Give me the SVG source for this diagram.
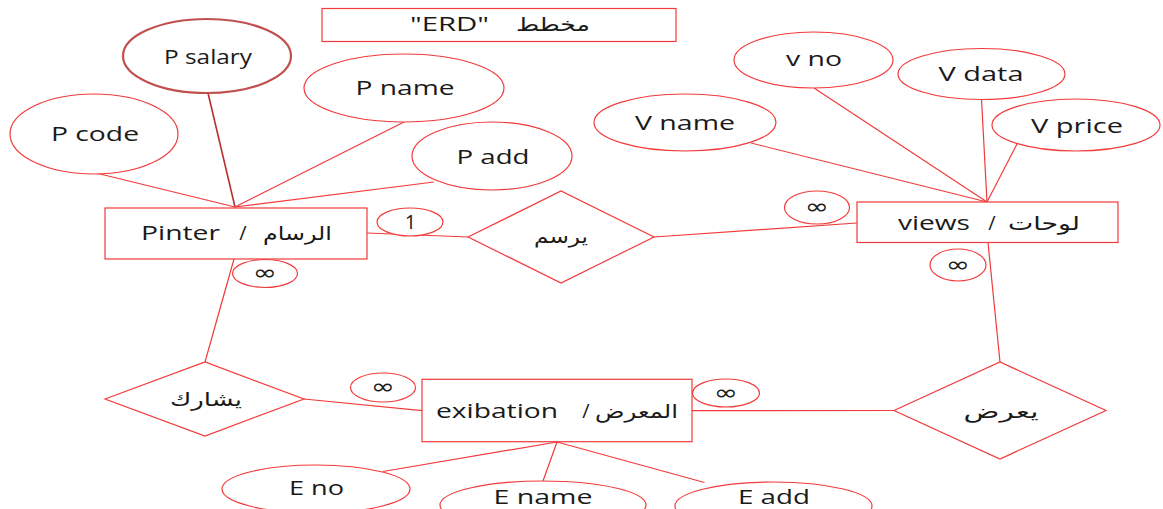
<svg xmlns="http://www.w3.org/2000/svg" width="1163" height="509" viewBox="0 0 1163 509">
<style>
.shape{fill:#ffffff;stroke:#f23a3a;stroke-width:1.2}
.dark{fill:#ffffff;stroke:#c0504d;stroke-width:2.2}
.line{stroke:#f23a3a;stroke-width:1.2;fill:none}
.dline{stroke:#b83030;stroke-width:1.6;fill:none}
.t{font-family:"Open Sans","Noto Sans","DejaVu Sans",sans-serif;font-size:20px;fill:#1a1a1a;text-anchor:middle}
.ar{font-family:"DejaVu Sans","Noto Sans",sans-serif;font-size:19px;fill:#1a1a1a;text-anchor:middle}
.inf{font-family:"DejaVu Sans",sans-serif;font-size:22px;fill:#1a1a1a;text-anchor:middle}
</style>
<rect width="1163" height="509" fill="#ffffff"/>
<g id="connectors">
<line class="line" x1="96" y1="173" x2="235" y2="207"/>
<line class="dline" x1="208" y1="93" x2="235" y2="207"/>
<line class="line" x1="404" y1="122" x2="235" y2="207"/>
<line class="line" x1="434" y1="182" x2="235" y2="207"/>
<line class="line" x1="367" y1="233" x2="468" y2="237"/>
<line class="line" x1="654" y1="237" x2="857" y2="223"/>
<line class="line" x1="751" y1="143" x2="987" y2="202"/>
<line class="line" x1="814" y1="88" x2="987" y2="202"/>
<line class="line" x1="981.5" y1="99.5" x2="987" y2="202"/>
<line class="line" x1="1017" y1="144" x2="987" y2="202"/>
<line class="line" x1="988" y1="242.5" x2="1000" y2="362"/>
<line class="line" x1="234" y1="259" x2="205" y2="362"/>
<line class="line" x1="304" y1="399" x2="422" y2="410.7"/>
<line class="line" x1="692" y1="410.7" x2="894" y2="410.5"/>
<line class="line" x1="557" y1="442" x2="383" y2="471.5"/>
<line class="line" x1="557" y1="442" x2="543" y2="481"/>
<line class="line" x1="557" y1="442" x2="704.5" y2="482.5"/>
</g>
<g id="title">
<rect class="shape" x="322" y="8.5" width="354" height="33"/>
<text class="t" x="449.5" y="31" font-size="19" textLength="79" lengthAdjust="spacingAndGlyphs">"ERD"</text>
<text class="ar" x="553" y="31" textLength="74" lengthAdjust="spacingAndGlyphs">مخطط</text>
</g>
<g id="p-salary">
<ellipse class="dark" cx="207" cy="56" rx="84" ry="37"/>
<text class="t" x="208" y="63.5" font-size="18" textLength="88" lengthAdjust="spacingAndGlyphs">P salary</text>
</g>
<g id="p-name">
<ellipse class="shape" cx="404" cy="88" rx="100" ry="34"/>
<text class="t" x="405" y="95" textLength="99" lengthAdjust="spacingAndGlyphs">P name</text>
</g>
<g id="p-code">
<ellipse class="shape" cx="94" cy="134" rx="84" ry="40"/>
<text class="t" x="95" y="141" textLength="88" lengthAdjust="spacingAndGlyphs">P code</text>
</g>
<g id="p-add">
<ellipse class="shape" cx="492" cy="156" rx="80" ry="34"/>
<text class="t" x="493" y="164" textLength="73" lengthAdjust="spacingAndGlyphs">P add</text>
</g>
<g id="pinter">
<rect class="shape" x="105" y="208" width="262" height="51"/>
<text class="t" x="180.5" y="240" textLength="79" lengthAdjust="spacingAndGlyphs">Pinter</text>
<text class="t" x="243" y="240">/</text>
<text class="ar" x="297.5" y="240" textLength="69" lengthAdjust="spacingAndGlyphs">الرسام</text>
</g>
<g id="card-1">
<ellipse class="shape" cx="410" cy="222" rx="33" ry="14"/>
<text class="t" x="410.5" y="229">1</text>
</g>
<g id="yarsum">
<polygon class="shape" points="468,237 561,191 654,237 561,283"/>
<text class="ar" x="561" y="243" textLength="54" lengthAdjust="spacingAndGlyphs">يرسم</text>
</g>
<g id="views">
<rect class="shape" x="857" y="202" width="261" height="40.5"/>
<text class="t" x="934" y="230" textLength="72" lengthAdjust="spacingAndGlyphs">views</text>
<text class="t" x="992" y="230">/</text>
<text class="ar" x="1044" y="230" textLength="72" lengthAdjust="spacingAndGlyphs">لوحات</text>
</g>
<g id="v-no">
<ellipse class="shape" cx="813.5" cy="60" rx="79.5" ry="28"/>
<text class="t" x="814" y="66" textLength="56" lengthAdjust="spacingAndGlyphs">v no</text>
</g>
<g id="v-data">
<ellipse class="shape" cx="981.5" cy="74" rx="83.5" ry="25.5"/>
<text class="t" x="981" y="81" textLength="85" lengthAdjust="spacingAndGlyphs">V data</text>
</g>
<g id="v-price">
<ellipse class="shape" cx="1076" cy="125" rx="84" ry="26"/>
<text class="t" x="1077" y="133" textLength="92" lengthAdjust="spacingAndGlyphs">V price</text>
</g>
<g id="v-name">
<ellipse class="shape" cx="685" cy="122.5" rx="91" ry="28.5"/>
<text class="t" x="685" y="130" textLength="100" lengthAdjust="spacingAndGlyphs">V name</text>
</g>
<g id="card-views-left">
<ellipse class="shape" cx="817" cy="207.5" rx="32.5" ry="16.5"/>
<text class="inf" x="817" y="214" textLength="24" lengthAdjust="spacingAndGlyphs">∞</text>
</g>
<g id="card-views-bottom">
<ellipse class="shape" cx="958" cy="265" rx="28" ry="16"/>
<text class="inf" x="958" y="271.5" textLength="24" lengthAdjust="spacingAndGlyphs">∞</text>
</g>
<g id="card-pinter-bottom">
<ellipse class="shape" cx="265" cy="273.5" rx="32.5" ry="14"/>
<text class="inf" x="265" y="280" textLength="24" lengthAdjust="spacingAndGlyphs">∞</text>
</g>
<g id="yardh">
<polygon class="shape" points="894,410.5 1000,362 1106,410.5 1000,459"/>
<text class="ar" x="1001" y="418" textLength="75" lengthAdjust="spacingAndGlyphs">يعرض</text>
</g>
<g id="exibation">
<rect class="shape" x="422" y="379.3" width="270" height="62.4"/>
<text class="t" x="497" y="418" textLength="122" lengthAdjust="spacingAndGlyphs">exibation</text>
<text class="t" x="586" y="418">/</text>
<text class="ar" x="636.5" y="418" textLength="83" lengthAdjust="spacingAndGlyphs">المعرض</text>
</g>
<g id="yusharik">
<polygon class="shape" points="105,399 205,362 304,399 205,436"/>
<text class="ar" x="206" y="406" textLength="72" lengthAdjust="spacingAndGlyphs">يشارك</text>
</g>
<g id="card-yusharik">
<ellipse class="shape" cx="383" cy="387.5" rx="32.5" ry="14.5"/>
<text class="inf" x="383" y="394" textLength="24" lengthAdjust="spacingAndGlyphs">∞</text>
</g>
<g id="card-exib-right">
<ellipse class="shape" cx="726" cy="393" rx="33.5" ry="14"/>
<text class="inf" x="726" y="399.5" textLength="24" lengthAdjust="spacingAndGlyphs">∞</text>
</g>
<g id="e-no">
<ellipse class="shape" cx="316" cy="489" rx="94" ry="24"/>
<text class="t" x="316.5" y="495" textLength="55" lengthAdjust="spacingAndGlyphs">E no</text>
</g>
<g id="e-name">
<ellipse class="shape" cx="543" cy="505" rx="103" ry="24"/>
<text class="t" x="543" y="504" textLength="99" lengthAdjust="spacingAndGlyphs">E name</text>
</g>
<g id="e-add">
<ellipse class="shape" cx="773.5" cy="506" rx="98.5" ry="24"/>
<text class="t" x="774" y="504" textLength="72" lengthAdjust="spacingAndGlyphs">E add</text>
</g>
</svg>
